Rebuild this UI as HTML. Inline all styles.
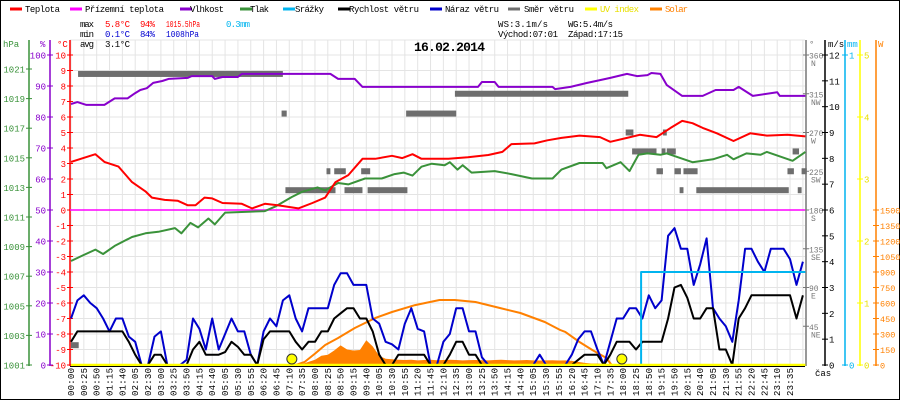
<!DOCTYPE html>
<html><head><meta charset="utf-8">
<style>
html,body{margin:0;padding:0;background:#fff;}
svg{display:block;font-family:"Liberation Mono",monospace;}
</style></head>
<body>
<svg id="chart" width="900" height="400" viewBox="0 0 900 400" xmlns="http://www.w3.org/2000/svg">
<rect x="0.5" y="0.5" width="899" height="399" fill="#fff" stroke="#000"/>
<g id="grid"></g>
<g id="legend"></g>
<g id="stats" font-size="9">
<text x="80" y="27" textLength="14">max</text>
<text x="105" y="27" fill="#f00" textLength="25">5.8°C</text>
<text x="140" y="27" fill="#f00" textLength="15">94%</text>
<text x="166" y="27" fill="#f00" textLength="34" lengthAdjust="spacingAndGlyphs">1015.5hPa</text>
<text x="226" y="27" fill="#00b4ef" textLength="24">0.3mm</text>
<text x="80" y="37" textLength="14">min</text>
<text x="105" y="37" fill="#0000d0" textLength="25">0.1°C</text>
<text x="140" y="37" fill="#0000d0" textLength="15">84%</text>
<text x="166" y="37" fill="#0000d0" textLength="33" lengthAdjust="spacingAndGlyphs">1008hPa</text>
<text x="80" y="47" textLength="14">avg</text>
<text x="105" y="47" textLength="25">3.1°C</text>
<text x="498" y="27" textLength="50">WS:3.1m/s</text>
<text x="568" y="27" textLength="45">WG:5.4m/s</text>
<text x="498" y="37" textLength="60">Východ:07:01</text>
<text x="568" y="37" textLength="55">Západ:17:15</text>
</g>
<text x="414" y="51" font-size="13" font-weight="bold" textLength="71">16.02.2014</text>
<g id="axes"></g>
<g id="series"></g>
</svg>
<script>
// ---------- data ----------
const timeLabels=["00:00","00:25","00:50","01:15","01:40","02:05","02:30","03:00","03:25","03:50","04:15","04:40","05:05","05:30","05:55","06:20","06:45","07:10","07:35","08:00","08:25","08:50","09:15","09:40","10:05","10:30","10:55","11:20","11:45","12:10","12:35","13:00","13:25","13:50","14:15","14:40","15:05","15:30","15:55","16:20","16:45","17:10","17:35","18:00","18:25","18:50","19:15","19:50","20:15","20:40","21:05","21:30","21:55","22:20","22:45","23:10","23:35"];
const tempSlot=[0,1.9,2.6,3.7,4.75,5.8,6.3,7.3,8.3,9.1,9.7,10.4,11,11.8,13.3,14.1,15.1,16.1,17.7,18.8,19.8,20.6,21.6,22.7,23.7,25,25.8,26.6,27.3,29.4,30.9,32.5,33.6,34.3,36.1,37.1,38.2,39.6,41.2,42,43.3,44.3,45.6,46.7,47.6,48.4,49.2,50.3,51.6,52.9,54.2,55.8,57.2];
const tempVal=[3.1,3.6,3.1,2.8,1.8,1.2,0.8,0.65,0.6,0.3,0.3,0.8,0.75,0.45,0.4,0.1,0.4,0.3,0.1,0.45,0.8,1.8,2.25,3.3,3.3,3.5,3.35,3.6,3.3,3.3,3.4,3.55,3.75,4.25,4.3,4.5,4.65,4.8,4.7,4.4,4.65,4.85,4.7,5.3,5.75,5.6,5.3,4.95,4.45,4.95,4.8,4.85,4.75];
const humSlot=[0,0.5,1.2,2.6,3.4,4.4,5,5.4,5.9,6.4,7.1,7.6,9.1,9.4,11,11.2,11.8,13,13.3,19.8,20.2,20.8,22.1,22.7,31.7,32,33,33.3,37.5,37.7,38.9,40.2,41.2,42,43.3,44.1,44.9,45.2,45.9,46.4,47.6,49.2,50.2,51.6,52,53.1,55,55.2,57.2];
const humVal=[84.2,84.8,83.9,83.9,86,86,87.7,88.7,89.3,91,91.6,92.3,92.6,93.2,93.2,92.3,92.9,92.9,93.9,93.9,93.9,92.3,92.3,89.7,89.7,91.3,91.3,89.7,89.7,89,89.7,91,91.9,92.6,93.9,93.2,93.5,94.2,93.9,90.3,86.8,86.8,88.7,88.7,89.7,86.8,88,86.8,86.8];
const presSlot=[0,0.9,1.9,2.5,3.4,4.75,5.8,6.8,8.1,8.6,9.3,9.9,10.7,11.2,12,15.1,15.9,17.2,18,19.2,19.8,20.8,21.6,22.9,24.2,25.2,25.9,26.6,27.3,28.1,29.1,29.5,30.1,30.5,31.2,33,34.3,35.9,37.5,38.2,39.6,41.4,41.7,42.8,43.5,44.2,44.9,45.9,46.4,48.4,50,51.1,51.6,52.6,53.7,54.2,56.2,57.2];
const presVal=[1008.03,1008.4,1008.8,1008.5,1009.05,1009.65,1009.9,1010,1010.25,1009.9,1010.6,1010.3,1010.9,1010.5,1011.3,1011.4,1011.7,1012.35,1012.7,1013,1012.8,1013.3,1013.2,1013.6,1013.6,1013.9,1014,1013.8,1014.4,1014.6,1014.5,1014.7,1014.2,1014.5,1014,1014.1,1013.9,1013.6,1013.6,1014.2,1014.65,1014.65,1014.3,1014.7,1014.1,1015.2,1015.3,1015.2,1015.3,1014.7,1014.9,1015.2,1014.9,1015.3,1015.2,1015.4,1014.8,1015.4];
// wind values every half slot (0, 0.5, 1, ... 57)
const windSpeed=[0.9,1.3,1.3,1.3,1.3,1.3,1.3,1.3,1.3,0.9,0.4,0,0,0.4,0.4,0,0,0,0,0.6,0.9,0.4,0.4,0.4,0.5,0.9,0.7,0.4,0.4,0,1.0,1.3,1.3,1.3,1.3,0.9,0.6,0.9,0.9,1.3,1.3,1.8,2.0,2.2,2.2,1.8,1.8,1.3,0.4,0,0,0.4,0.4,0.4,0.4,0.4,0,0,0,0.4,0.9,0.9,0.4,0.4,0,0,0,0,0,0,0,0,0,0,0,0,0,0,0,0.2,0.4,0.4,0.4,0,0.4,0.9,0.9,0.9,0.6,0.9,0.9,0.9,0.9,1.8,3.0,3.1,2.6,1.8,1.8,2.2,2.2,0.6,0.6,0,1.8,2.2,2.7,2.7,2.7,2.7,2.7,2.7,2.7,1.8,2.7];
const windGust=[1.8,2.5,2.7,2.4,2.2,1.8,1.3,1.8,1.8,1.1,0.9,0,0,1.1,1.3,0,0,0,0.2,1.8,1.4,0.6,1.8,0.6,1.2,1.8,1.3,1.3,0.4,0,1.3,1.8,1.5,2.5,2.7,1.8,1.3,2.2,2.2,2.2,2.2,3.1,3.55,3.55,3.1,3.1,3.1,1.8,1.6,0.9,0.8,0.6,1.6,2.2,1.4,1.3,0,0,0.9,1.2,2.2,2.2,1.3,1.3,0.3,0,0,0,0,0,0,0,0,0.4,0,0,0,0,0.4,1.0,1.3,1.3,0.6,0,0.9,1.8,1.8,2.2,2.2,1.8,2.7,2.2,2.5,5.0,5.3,4.5,4.5,3.1,3.9,4.9,2.2,1.8,1.5,0.9,2.5,4.5,4.5,4.0,3.6,4.5,4.5,4.5,4.1,3.1,4.0];
const rainSlot=[0,44.4,44.4,57.2];
const rainVal=[0,0,0.3,0.3];
const dirStart=[0.55,16.4,0,16.7,21.3,23.1,19.9,20.5,22.6,26.1,29.9,43.2,43.7,46,46.4,56.2,46.1,45.6,47,47.7,55.8,56.9,47.4,48.7,56.6];
const dirEnd=[16.5,16.8,0.6,20.6,22.7,26.2,20.2,21.4,23.3,30,43.4,43.8,45.6,46.3,47.1,56.7,46.4,46.1,47.5,48.8,56.3,57.3,47.7,55.9,56.9];
const dirDeg=[338,292,23,203,203,203,225,225,225,292,315,270,248,248,248,248,270,225,225,225,225,225,203,203,203];
const solarStart=17.5; // half-slot series
const solarVal=[0,10,30,50,90,100,140,190,150,140,145,240,180,90,60,55,50,48,50,45,48,50,46,48,50,48,45,47,48,46,45,48,50,47,45,46,48,45,44,45,46,44,45,40,30,20,15,15,10,0];
const solarCurveSlot=[17.5,18.2,19,19.8,20.8,22.1,23.7,25,26.8,28.7,29.9,31.5,33.4,35,36.9,38.1,38.5,39.6,40.6,41.7,42.1];
const solarCurveVal=[0,30,110,194,261,358,455,513,580,629,629,610,552,503,416,339,320,223,145,68,0];
const uvVal=[0,0];
const sunMarks=[17.2,42.9];
const hpaTicks=[1001,1003,1005,1007,1009,1011,1013,1015,1017,1019,1021];
const humTicks=[0,10,20,30,40,50,60,70,80,90,100];
const tempTicks=[-10,-9,-8,-7,-6,-5,-4,-3,-2,-1,0,1,2,3,4,5,6,7,8,9,10];
const dirTicks=[45,90,135,180,225,270,315,360];
const dirNames=["NE","E","SE","S","SW","W","NW","N"];
const msTicks=[0,1,2,3,4,5,6,7,8,9,10,11,12];
const mmTicks=[0,1];
const uvTicks=[0,1,2,3,4,5];
const wTicks=[0,150,300,450,600,750,900,1050,1200,1350,1500];

// ---------- scales ----------
const X0=71, SW=12.84;
const xs=s=>X0+s*SW;
const yT=t=>210-t*15.5;
const yH=h=>365-h*3.1;
const yP=p=>365-(p-1001)*14.8;
const yW=v=>365-v*25.833;
const yD=d=>365-d*0.8611;
const yS=w=>365-w*0.10333;
const yR=m=>365-m*310;
const yU=u=>365-u*62;

const NS="http://www.w3.org/2000/svg";
function mk(tag,attrs,parent){const e=document.createElementNS(NS,tag);for(const k in attrs)e.setAttribute(k,attrs[k]);parent.appendChild(e);return e;}
const grid=document.getElementById('grid'),axes=document.getElementById('axes'),ser=document.getElementById('series'),leg=document.getElementById('legend');

for(const t of tempTicks){const l=mk('line',{x1:70,x2:805,y1:yT(t),y2:yT(t),stroke:'#e4e4e4'},grid);

}
{const l=mk('line',{x1:70,x2:805,y1:40,y2:40,stroke:'#e4e4e4'},grid);

}
for(let i=0;i<=57;i++){const l=mk('line',{x1:xs(i),x2:xs(i),y1:40,y2:365,stroke:'#e4e4e4'},grid);

}

const legNames=["Teplota","Přízemní teplota","Vlhkost","Tlak","Srážky","Rychlost větru","Náraz větru","Směr větru","UV index","Solar"];
const legColors=["#f00","#f0f","#8800cc","#3a923a","#00b4ef","#000","#0000cc","#707070","#ffff00","#ff8000"];
const legDash=[10,70,180,240,283,338,430,508,585,650];
const legText=[25,85,190,250,295,349,445,524,600,665];
const legW=[35,79,34,19,29,70,54,50,39,23];
for(let i=0;i<legNames.length;i++){
 const g=mk('g',{},leg);
 
 
 mk('line',{x1:legDash[i],x2:legDash[i]+12,y1:9,y2:9,stroke:legColors[i],'stroke-width':3},g);
 const t=mk('text',{x:legText[i],y:12,'font-size':9,textLength:legW[i],fill:(i>=8?legColors[i]:'#000')},g);
 if(i==8)t.setAttribute('fill','#e8e000');
 t.textContent=legNames[i];
}

function axis(x,col,ticks,yf,labX,anchor,labCol,name,fs){
 const g=mk('g',{},axes);
 
 
 mk('line',{x1:x,x2:x,y1:40,y2:366,stroke:col,'stroke-width':1.5},g);
 ticks.forEach((v)=>{const y=yf(v);
  mk('line',{x1:x-3,x2:x+3,y1:y,y2:y,stroke:col},g);
  const t=mk('text',{x:labX,y:y+3.5,'font-size':fs||9,fill:labCol,'text-anchor':anchor},g);
  t.textContent=String(v);});
 return g;
}
axis(29,'#3a923a',hpaTicks,yP,25,'end','#3a923a','pressure-axis');
axis(50,'#8800cc',humTicks,yH,46,'end','#8800cc','humidity-axis');
axis(70,'#f00',tempTicks,yT,66,'end','#f00','temperature-axis');
{const g=axis(806,'#777',dirTicks,yD,809,'start','#777','direction-axis',8);
 dirTicks.forEach((d,i)=>{const t=mk('text',{x:811,y:yD(d)+11,'font-size':8,fill:'#777'},g);t.textContent=dirNames[i];});}
axis(825,'#000',msTicks,yW,829,'start','#000','wind-axis');
axis(845,'#00b4ef',mmTicks,yR,849,'start','#00b4ef','rain-axis');
axis(860,'#ffff00',uvTicks,yU,864,'start','#e8e000','uv-axis');
axis(876,'#ff8000',wTicks,yS,880,'start','#ff8000','solar-axis',8.5);
const heads=[["hPa",3,'#3a923a'],["%",40,'#8800cc'],["°C",57,'#f00'],["°",809,'#777'],["m/s",828,'#000'],["mm",847,'#00b4ef'],["W",878,'#ff8000']];
heads.forEach(h=>{const t=mk('text',{x:h[1],y:47,'font-size':9,fill:h[2]},axes);
 
 
 t.textContent=h[0];});
{const t=mk('text',{x:815,y:376,'font-size':9},axes);
 
 
 t.textContent='čas';}
timeLabels.forEach((lab,i)=>{const x=xs(i)+3;
 const t=mk('text',{transform:`translate(${x},396) rotate(-90)`,'font-size':9,textLength:28},axes);
 
 
 t.textContent=lab;});

function poly(sl,vals,yf,col,w,name){
 const pts=vals.map((v,i)=>xs(sl[i]).toFixed(1)+','+yf(v).toFixed(1)).join(' ');
 const p=mk('polyline',{points:pts,fill:'none',stroke:col,'stroke-width':w,'stroke-linejoin':'round'},ser);
 
 
 return p;
}
const half=n=>Array.from({length:n},(_,i)=>i/2);

{const sl=solarVal.map((_,i)=>solarStart+i/2);
 let pts=xs(sl[0])+',365 '+solarVal.map((v,i)=>xs(sl[i]).toFixed(1)+','+yS(v).toFixed(1)).join(' ')+' '+xs(sl[sl.length-1])+',365';
 const p=mk('polygon',{points:pts,fill:'#ff8000'},ser);
 
 }
{const l=mk('line',{x1:70,x2:805,y1:yT(0),y2:yT(0),stroke:'#f0f','stroke-width':1.5},ser);
 
 }
dirDeg.forEach((d,i)=>{const r=mk('rect',{x:xs(dirStart[i]),y:yD(d)-3,width:Math.max(3,xs(dirEnd[i])-xs(dirStart[i])),height:6,fill:'#6e6e6e'},ser);
 
 });
poly(solarCurveSlot,solarCurveVal,yS,'#ff8000',2,'solar-theoretical-line');
poly(humSlot,humVal,yH,'#8800cc',2,'humidity-line');
poly(presSlot,presVal,yP,'#3a923a',2,'pressure-line');
poly(tempSlot,tempVal,yT,'#f00',2,'temperature-line');
poly(half(windGust.length),windGust,yW,'#0000cc',2,'wind-gust-line');
poly(half(windSpeed.length),windSpeed,yW,'#000',2,'wind-speed-line');
poly(rainSlot,rainVal,yR,'#00b4ef',2,'rain-line');
poly([0,57.2],uvVal,yU,'#ffff00',2.5,'uv-line');
{const l=mk('line',{x1:70,x2:805,y1:366.5,y2:366.5,stroke:'#000'},ser);
 
 }
sunMarks.forEach(s=>{const c=mk('circle',{cx:xs(s),cy:359,r:5,fill:'#ffff00',stroke:'#333'},ser);
 
 });
</script>
</body></html>
